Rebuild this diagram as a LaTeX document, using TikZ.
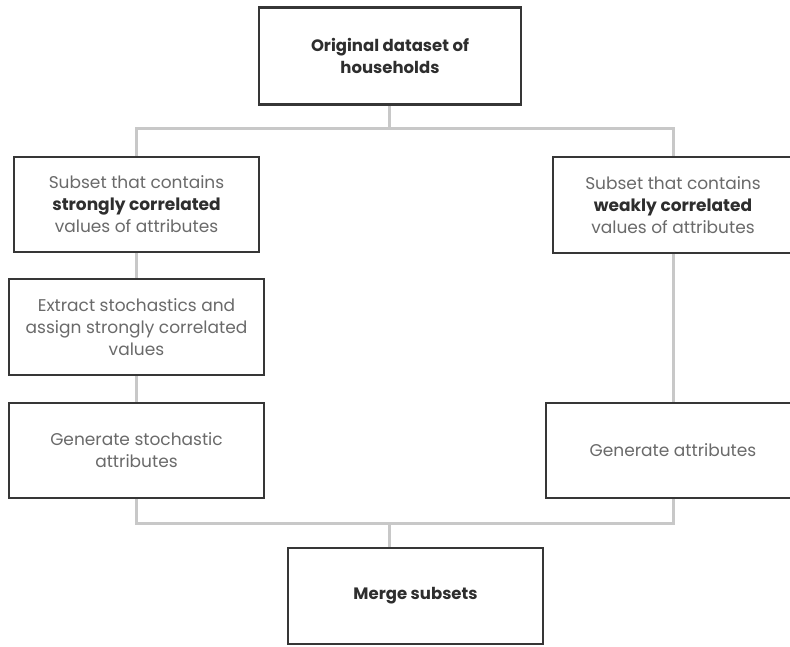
\documentclass[tikz,border=0pt]{standalone}
\usepackage{fontspec}
\setmainfont{Poppins}
\definecolor{boxline}{HTML}{363636}
\definecolor{conn}{HTML}{C8C8C8}
\definecolor{txtlight}{HTML}{6A6A6A}
\definecolor{txtdark}{HTML}{2E2E2E}
\tikzset{
  box/.style={draw=boxline, line width=2.2pt, fill=white, align=center,
    font=\fontsize{17}{22}\selectfont, text=txtlight, inner sep=4pt},
  titlebox/.style={box, text=txtdark, font=\fontsize{16.5}{22}\selectfont\bfseries},
  conline/.style={draw=conn, line width=3pt},
}
\begin{document}
\begin{tikzpicture}[x=1pt,y=-1pt]
\useasboundingbox (0,0) rectangle (790,646);
\fill[white] (0,0) rectangle (790,646);
\coordinate (j1) at (389,128);
\coordinate (j2) at (389,523);
% node positions (first pass, for connectors)
\node[titlebox, minimum width=262pt, minimum height=97pt] (orig) at (390,56) {Original dataset of\\households};
\node[box, minimum width=245pt, minimum height=95pt] (strong) at (136.5,204.5) {Subset that contains\\{\color{txtdark}\bfseries strongly correlated}\\values of attributes};
\node[box, minimum width=240pt, minimum height=96pt] (weak) at (673,205) {Subset that contains\\{\color{txtdark}\bfseries weakly correlated}\\values of attributes};
\node[box, minimum width=255pt, minimum height=96pt] (extract) at (136.5,327) {Extract stochastics and\\assign strongly correlated\\values};
\node[box, minimum width=255pt, minimum height=95pt] (genstoch) at (136.5,450.5) {Generate stochastic\\attributes};
\node[box, minimum width=254pt, minimum height=95pt] (genattr) at (673,450.5) {Generate attributes};
\node[titlebox, minimum width=255pt, minimum height=96pt] (merge) at (415.5,596) {Merge subsets};
% connectors
\draw[conline] (orig.south -| j1) -- (j1);
\draw[conline] (strong.north) |- (j1) -| (weak.north);
\draw[conline] (strong) -- (extract);
\draw[conline] (extract) -- (genstoch);
\draw[conline] (weak) -- (genattr);
\draw[conline] (genstoch.south) |- (j2) -| (genattr.south);
\draw[conline] (j2) -- (merge.north -| j2);
% boxes again on top of the connectors
\node[titlebox, minimum width=262pt, minimum height=97pt] at (orig) {Original dataset of\\households};
\node[box, minimum width=245pt, minimum height=95pt] at (strong) {Subset that contains\\{\color{txtdark}\bfseries strongly correlated}\\values of attributes};
\node[box, minimum width=240pt, minimum height=96pt] at (weak) {Subset that contains\\{\color{txtdark}\bfseries weakly correlated}\\values of attributes};
\node[box, minimum width=255pt, minimum height=96pt] at (extract) {Extract stochastics and\\assign strongly correlated\\values};
\node[box, minimum width=255pt, minimum height=95pt] at (genstoch) {Generate stochastic\\attributes};
\node[box, minimum width=254pt, minimum height=95pt] at (genattr) {Generate attributes};
\node[titlebox, minimum width=255pt, minimum height=96pt] at (merge) {Merge subsets};
\end{tikzpicture}
\end{document}
